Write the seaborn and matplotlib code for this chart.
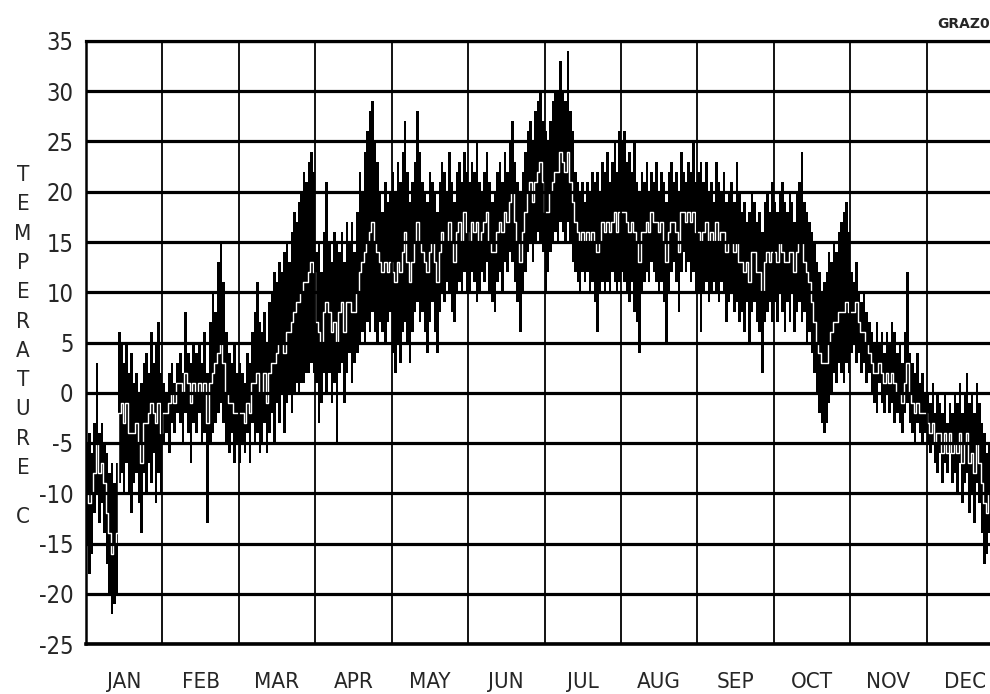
import numpy as np
import pandas as pd
import matplotlib
matplotlib.use("Agg")
import matplotlib.pyplot as plt
import seaborn as sns
from matplotlib import font_manager

# ---------------- data ----------------
months = ["JAN", "FEB", "MAR", "APR", "MAY", "JUN",
          "JUL", "AUG", "SEP", "OCT", "NOV", "DEC"]
month_days = [31, 28, 31, 30, 31, 30, 31, 31, 30, 31, 30, 31]
y_ticks = [-25, -20, -15, -10, -5, 0, 5, 10, 15, 20, 25, 30, 35]

# daily maximum temperature (C), one row per month
tmax = [
    -5, -4, -6, -3, 3, -4, -3, -5, -6, -8, -7, -9, -7, 6, 5, 3, 5, 2, 4, 1, 2, 0, 1, 3, 4, 2, 6, 3, 5, 7, 2,
    1, 0, 2, 3, 1, 3, 4, 2, 8, 4, 3, 5, 4, 5, 3, 6, 2, 7, 10, 8, 13, 15, 11, 6, 4, 3, 5, 2,
    3, 2, 1, 4, 3, 6, 8, 11, 7, 6, 8, 5, 9, 10, 12, 11, 13, 12, 14, 15, 13, 16, 18, 17, 19, 20, 22, 21, 23, 24, 22,
    14, 15, 12, 16, 21, 15, 13, 16, 15, 14, 16, 13, 17, 15, 17, 14, 18, 22, 20, 24, 26, 28, 29, 25, 23, 20, 18, 21, 19, 20,
    22, 20, 23, 21, 24, 27, 22, 19, 21, 23, 28, 24, 21, 20, 19, 22, 21, 20, 18, 21, 23, 22, 20, 24, 21, 19, 22, 23, 21, 24, 22,
    21, 23, 22, 25, 21, 20, 22, 24, 21, 19, 20, 22, 23, 21, 24, 22, 25, 27, 23, 21, 20, 22, 24, 26, 27, 25, 28, 29, 30, 27,
    26, 25, 27, 29, 30, 30, 33, 30, 29, 34, 28, 26, 22, 21, 20, 21, 19, 21, 20, 22, 21, 22, 20, 23, 22, 24, 21, 23, 25, 22, 26,
    25, 26, 23, 24, 22, 25, 21, 20, 22, 21, 23, 20, 22, 21, 23, 20, 22, 21, 19, 22, 23, 21, 22, 20, 24, 22, 21, 23, 22, 25, 21,
    22, 23, 21, 23, 20, 21, 19, 23, 21, 20, 22, 19, 20, 21, 19, 23, 20, 18, 19, 17, 18, 20, 19, 17, 18, 16, 19, 20, 18, 21,
    19, 18, 20, 21, 19, 18, 20, 19, 17, 20, 21, 24, 19, 18, 17, 16, 15, 13, 12, 10, 11, 12, 14, 13, 15, 14, 16, 17, 18, 19, 16,
    12, 11, 13, 10, 9, 10, 8, 7, 6, 5, 7, 5, 6, 4, 6, 5, 7, 6, 4, 5, 3, 6, 12, 4, 3, 2, 4, 1, 2, 0,
    0, -1, 1, -2, 0, -1, -2, 0, -3, -1, -2, 0, -1, 1, -2, 0, 2, -1, 0, -2, 1, -1, -3, -4, -6, -5, -3, -4, -2, -3, -1,
]

# daily minimum temperature (C)
tmin = [
    -15, -18, -16, -12, -10, -13, -11, -14, -17, -20, -22, -21, -20, -9, -8, -10, -7, -10, -12, -9, -8, -11, -14, -8, -10, -7, -9, -6, -11, -8, -10,
    -5, -4, -6, -3, -4, -2, -3, -5, -2, -4, -7, -3, -4, -2, -5, -4, -13, -5, -4, -3, -2, -1, -3, -5, -6, -4, -7, -5,
    -7, -5, -6, -4, -7, -3, -5, -4, -6, -5, -3, -6, -4, -2, -5, -1, -3, 0, -4, -1, 0, -2, 0, 1, 0, 1, 1, 2, 2, 3, 2,
    1, -3, -1, 2, 0, 2, -1, 1, -5, 2, 3, -1, 2, 4, 1, 3, 4, 5, 6, 5, 7, 6, 8, 6, 5, 7, 6, 5, 7, 8,
    4, 2, 5, 3, 6, 7, 5, 3, 6, 8, 9, 7, 8, 6, 4, 7, 9, 6, 4, 8, 10, 9, 11, 10, 8, 7, 10, 11, 10, 12, 10,
    10, 12, 11, 9, 10, 12, 11, 13, 10, 9, 8, 11, 12, 10, 13, 12, 14, 13, 11, 9, 6, 10, 12, 14, 15, 13, 15, 16, 15, 14,
    10, 12, 14, 15, 16, 15, 17, 16, 15, 17, 15, 13, 12, 11, 10, 12, 11, 12, 10, 11, 9, 6, 10, 11, 10, 11, 10, 12, 11, 10, 11,
    12, 11, 10, 9, 11, 8, 7, 4, 10, 11, 12, 11, 13, 12, 11, 10, 11, 9, 5, 10, 12, 13, 11, 8, 12, 14, 12, 13, 11, 12, 10,
    10, 6, 10, 11, 9, 10, 11, 10, 9, 11, 10, 7, 9, 10, 8, 9, 7, 8, 6, 9, 5, 8, 9, 7, 6, 2, 7, 8, 9, 7,
    9, 7, 10, 8, 6, 9, 7, 10, 6, 8, 9, 7, 8, 5, 6, 4, 2, 0, -2, -3, -4, -3, -1, 0, 2, 1, 3, 2, 1, 3, 2,
    4, 5, 3, 4, 2, 3, 1, 2, 0, -1, -2, 1, -1, -2, 0, -2, -1, -3, -2, -3, -4, -2, -1, -3, -4, -5, -3, -4, -5, -4,
    -5, -6, -5, -7, -8, -6, -9, -7, -8, -6, -9, -8, -10, -7, -11, -9, -8, -12, -10, -13, -9, -11, -14, -17, -16, -14, -12, -11, -10, -12, -9,
]

# daily mean temperature (C) - the white step line
tmean = [
    -10, -11, -10, -8, -5, -8, -7, -9, -12, -14, -16, -15, -14, -2, -1, -3, -1, -4, -4, -4, -3, -5, -7, -3, -3, -2, -1, -2, -3, -1, -4,
    -2, -2, -1, 0, -1, 1, 1, 0, 2, 1, -1, 1, 0, 1, 0, 1, -3, 1, 2, 3, 4, 5, 3, 0, -1, -1, -2, -2,
    -2, -2, -3, -1, -2, 1, 1, 2, 0, 0, 2, -1, 2, 3, 3, 4, 5, 5, 4, 6, 6, 7, 8, 9, 9, 10, 11, 11, 12, 13, 12,
    7, 6, 5, 8, 9, 8, 6, 7, 5, 8, 9, 6, 9, 9, 8, 8, 10, 12, 13, 14, 15, 16, 17, 15, 14, 13, 12, 13, 12, 13,
    12, 11, 13, 12, 14, 16, 13, 11, 13, 15, 17, 15, 14, 13, 12, 14, 15, 13, 11, 14, 16, 15, 15, 17, 15, 13, 16, 17, 15, 18, 16,
    15, 17, 16, 17, 15, 16, 17, 18, 15, 14, 14, 16, 17, 16, 18, 17, 19, 20, 17, 15, 13, 16, 18, 20, 21, 19, 21, 22, 23, 21,
    18, 18, 20, 21, 22, 22, 24, 23, 22, 24, 21, 19, 17, 16, 15, 16, 15, 16, 15, 16, 15, 14, 15, 17, 16, 17, 16, 17, 18, 16, 18,
    18, 18, 17, 16, 17, 16, 15, 13, 16, 16, 17, 16, 18, 17, 17, 16, 17, 15, 13, 16, 17, 17, 16, 14, 18, 18, 17, 18, 17, 18, 16,
    16, 15, 16, 17, 15, 16, 15, 17, 15, 16, 16, 14, 15, 15, 14, 15, 13, 13, 12, 13, 11, 14, 14, 12, 12, 10, 13, 14, 13, 14,
    14, 13, 15, 14, 13, 13, 14, 14, 12, 14, 15, 15, 13, 12, 11, 9, 7, 5, 4, 3, 3, 3, 5, 6, 7, 7, 8, 8, 8, 9, 8,
    8, 8, 9, 7, 6, 6, 5, 4, 3, 2, 2, 3, 2, 1, 2, 1, 2, 1, 0, 0, -1, 1, 3, 0, -1, -2, -1, -2, -2, -2,
    -3, -4, -3, -5, -4, -4, -6, -4, -6, -4, -6, -5, -6, -4, -7, -5, -4, -7, -6, -8, -5, -7, -9, -11, -12, -10, -8, -8, -6, -7, -5,
]

title_text = "GRAZ0"
ylabel_letters = list("TEMPERATURE") + ["C"]

# ---------------- layout helpers ----------------
day_x = np.concatenate([m + (np.arange(n) + 0.5) / n for m, n in enumerate(month_days)])
day_w = np.concatenate([np.full(n, 1.0 / n) for n in month_days])
df = pd.DataFrame({"x": day_x, "w": day_w, "tmax": tmax, "tmin": tmin, "tmean": tmean})

sns.set_style("white")
plt.rcParams["font.family"] = ["DejaVu Sans"]


def is_regular(f):
    w = f.weight
    if isinstance(w, str):
        return w in ("normal", "regular", "book", "medium")
    return 350 <= int(w) <= 550


# pick a narrow, regular-weight face if one is installed (plotter-like lettering)
cands = [f for f in font_manager.fontManager.ttflist
         if ("Narrow" in f.name or str(f.stretch) in ("condensed", "semi-condensed"))
         and f.style == "normal"]
reg = [f for f in cands if is_regular(f)]
pick = (reg or cands or [None])[0]
if pick is not None:
    label_font = font_manager.FontProperties(fname=pick.fname)
else:
    label_font = font_manager.FontProperties(family="DejaVu Sans")

W, H = 990, 694
fig = plt.figure(figsize=(W / 100, H / 100), dpi=100)
# right edge of the plot area lies beyond the image (as in the scan)
ax = fig.add_axes([86 / W, (H - 644) / H, 917 / W, 603 / H])

# daily range bars
ax.bar(df["x"], df["tmax"] - df["tmin"], bottom=df["tmin"], width=df["w"],
       color="black", linewidth=0, align="center", zorder=2)
# daily mean as a white step line
sns.lineplot(data=df, x="x", y="tmean", ax=ax, color="white", lw=1.0,
             drawstyle="steps-mid", estimator=None, sort=False, zorder=3)

ax.set_xlim(0, 12)
ax.set_ylim(-25, 35)

# grid
for yv in y_ticks:
    ax.axhline(yv, color="black", lw=2.3, zorder=4)
for m in range(1, 12):
    ax.axvline(m, color="black", lw=1.3, zorder=4)

for s in ["left", "bottom", "top"]:
    ax.spines[s].set_color("black")
ax.spines["left"].set_linewidth(1.8)
ax.spines["bottom"].set_linewidth(2.6)
ax.spines["top"].set_linewidth(2.3)
ax.spines["right"].set_visible(False)

ax.set_yticks(y_ticks)
ax.set_yticklabels([str(v) for v in y_ticks])
ax.set_xticks(np.arange(12) + 0.5)
ax.set_xticklabels(months)
ax.tick_params(axis="y", length=0, pad=9)
ax.tick_params(axis="x", length=0, pad=20)
for lab in ax.get_yticklabels():
    lab.set_fontproperties(label_font)
    lab.set_fontsize(17)
for lab in ax.get_xticklabels():
    lab.set_fontproperties(label_font)
    lab.set_fontsize(16)
ax.set_xlabel("")
ax.set_ylabel("")

# vertical stacked axis label
ys = [175 + 29.3 * i for i in range(11)] + [517]
for ch, yp in zip(ylabel_letters, ys):
    fig.text(23 / W, 1 - yp / H, ch, ha="center", va="center",
             fontproperties=label_font, fontsize=16)

fig.text(937 / W, 1 - 24 / H, title_text, ha="left", va="center",
         fontsize=10, fontweight="bold", family="DejaVu Sans")

fig.savefig("out.png", dpi=100)
